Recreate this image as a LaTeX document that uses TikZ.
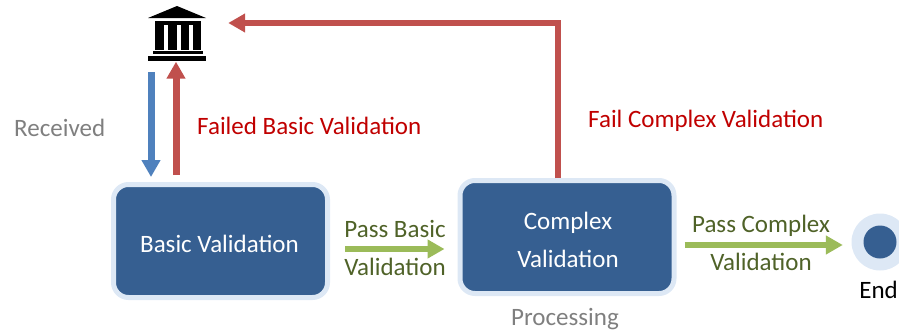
\documentclass[tikz,border=0pt]{standalone}
\usepackage{fontspec}
\setmainfont{Carlito}
\usetikzlibrary{arrows.meta,calc}
\definecolor{boxdark}{RGB}{54,95,145}
\definecolor{boxlight}{RGB}{221,232,245}
\definecolor{arrred}{RGB}{192,80,77}
\definecolor{arrblue}{RGB}{79,129,189}
\definecolor{arrgreen}{RGB}{155,187,89}
\definecolor{txtred}{RGB}{192,0,0}
\definecolor{txtgreen}{RGB}{79,98,40}
\definecolor{txtgray}{RGB}{127,127,127}
\tikzset{
  statebox/.style={draw=boxlight, line width=5pt, fill=boxdark, rounded corners=15pt,
    minimum width=214pt, minimum height=113pt, inner sep=0pt, text=white,
    font=\fontsize{25}{38}\selectfont, align=center},
  lbl/.style={font=\fontsize{25}{38}\selectfont, inner sep=0pt, align=center},
  fatarrow/.style={line width=#1, -{Triangle[width=18pt,length=17pt]}},
  fatarrow/.default=7pt,
  bankpart/.style={fill=black}
}
\begin{document}
\begin{tikzpicture}[x=1pt,y=-1pt]
\useasboundingbox (0,0) rectangle (899,332);
% nodes
\node[statebox] (basic) at (220.5,241) {};
\node[statebox] (complex) at (567,237) {};
\node[circle, fill=boxlight, minimum size=57pt, inner sep=0pt] (end) at (880,242) {};
\node[circle, fill=boxdark, minimum size=33pt, inner sep=0pt] (endcore) at (end.center) {};
\node[inner sep=0pt, minimum width=58pt, minimum height=56pt] (bank) at (177,33.5) {};
% bank icon
\fill[bankpart] (148,18) -- (177,6) -- (206,18) -- cycle;
\fill[bankpart] (155,20.5) rectangle (201,25);
\foreach \a/\b in {155/164,168/177,181/189,193/201}{
  \fill[bankpart] (\a,24) rectangle (\b,49.5);
}
\fill[bankpart] (153,51) rectangle (203,54);
\fill[bankpart] (148,55.5) rectangle (206,61);
% texts in boxes
\node[lbl, text=white, anchor=base] at (219.5,252) {Basic Validation};
\node[lbl, text=white, anchor=base] at (568,267) {Complex\\Validation};
% connectors
\draw[fatarrow=7pt, draw=arrblue, arrblue, shorten <=10.5pt, shorten >=5pt]
  ([xshift=-26pt]bank.south) -- ([xshift=-69.5pt]basic.north);
\draw[fatarrow=7pt, draw=arrred, arrred, shorten <=7pt]
  ([xshift=-44.5pt]basic.north) -- ([xshift=-1pt]bank.south);
\coordinate (failcorner) at (558,23);
\draw[fatarrow=6pt, draw=arrred, arrred, shorten >=22pt]
  (complex.north -| failcorner) -- (failcorner) -- (bank.east |- failcorner);
\draw[fatarrow=6.5pt, draw=arrgreen, arrgreen, shorten <=15pt, shorten >=13pt]
  ($(basic.east)+(0,8)$) -- ($(complex.west)+(0,12)$);
\draw[fatarrow=6.5pt, draw=arrgreen, arrgreen, shorten <=8pt, shorten >=8.5pt]
  ($(complex.east)+(0,8)$) -- ($(end.west)+(0,3)$);
% labels
\node[lbl, text=txtgray, anchor=base west] at (14,136) {Received};
\node[lbl, text=txtred, anchor=base west] at (197,134) {Failed Basic Validation};
\node[lbl, text=txtred, anchor=base west] at (588,127) {Fail Complex Validation};
\node[lbl, text=txtgreen, anchor=base] at (395,275) {Pass Basic\\Validation};
\node[lbl, text=txtgreen, anchor=base] at (761,270) {Pass Complex\\Validation};
\node[lbl, text=black, anchor=base east] at (898,298) {End};
\node[lbl, text=txtgray, anchor=base] at (565,325) {Processing};
\end{tikzpicture}
\end{document}
